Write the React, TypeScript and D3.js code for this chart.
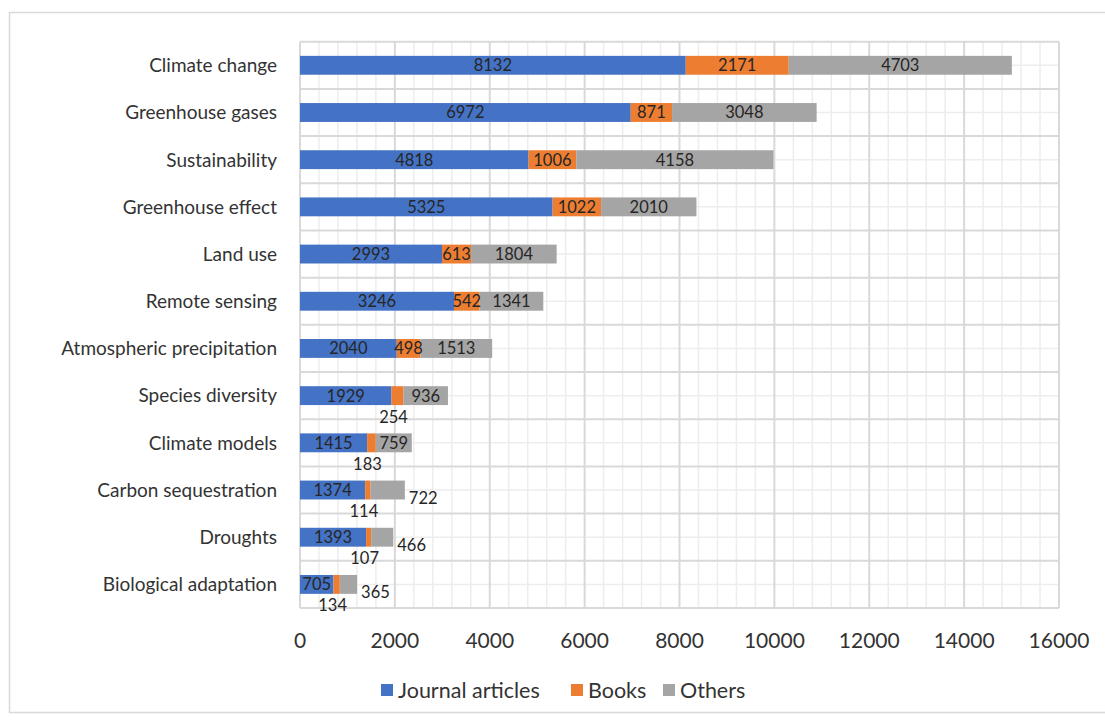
import React, { useEffect, useRef } from 'react';
import * as d3 from 'd3';

const categories = [
  'Climate change',
  'Greenhouse gases',
  'Sustainability',
  'Greenhouse effect',
  'Land use',
  'Remote sensing',
  'Atmospheric precipitation',
  'Species diversity',
  'Climate models',
  'Carbon sequestration',
  'Droughts',
  'Biological adaptation',
];
const journalArticles = [8132, 6972, 4818, 5325, 2993, 3246, 2040, 1929, 1415, 1374, 1393, 705];
const books = [2171, 871, 1006, 1022, 613, 542, 498, 254, 183, 114, 107, 134];
const others = [4703, 3048, 4158, 2010, 1804, 1341, 1513, 936, 759, 722, 466, 365];
const seriesNames = ['Journal articles', 'Books', 'Others'];
const xTicks = [0, 2000, 4000, 6000, 8000, 10000, 12000, 14000, 16000];

// labels Excel pushed outside the grey segment
const othersOutside = new Set(['Carbon sequestration', 'Droughts', 'Biological adaptation']);

const colors = ['#4472C4', '#ED7D31', '#A5A5A5'];
const FONT = "Lato, 'Open Sans', sans-serif";
const W = 1105;
const H = 722;

const App = () => {
  const ref = useRef<SVGSVGElement>(null);

  useEffect(() => {
    const svg = d3.select(ref.current);
    svg.selectAll('*').remove();

    const left = 300, right = 1059, top = 41.7, bottom = 608;

    const x = d3.scaleLinear().domain([0, 16000]).range([left, right]);
    const y = d3.scaleBand().domain(categories).range([top, bottom]).paddingInner(0.6).paddingOuter(0.3);
    const step = y.step();

    // outer frame
    svg.append('rect')
      .attr('x', 9.5).attr('y', 12.5).attr('width', 1100).attr('height', 700)
      .attr('fill', 'white').attr('stroke', '#d9d9d9').attr('stroke-width', 1.5);

    const grid = svg.append('g');
    // minor vertical lines every 400
    grid.selectAll('.vminor')
      .data(d3.range(0, 16001, 400).filter(v => v % 2000 !== 0))
      .enter().append('line')
      .attr('x1', d => x(d)).attr('x2', d => x(d))
      .attr('y1', top).attr('y2', bottom)
      .attr('stroke', '#ededed').attr('stroke-width', 1.5);
    // minor horizontal lines through category centres
    grid.selectAll('.hminor')
      .data(categories)
      .enter().append('line')
      .attr('x1', left).attr('x2', right)
      .attr('y1', d => y(d)! + y.bandwidth() / 2).attr('y2', d => y(d)! + y.bandwidth() / 2)
      .attr('stroke', '#ededed').attr('stroke-width', 1.5);
    // major vertical
    grid.selectAll('.vmajor')
      .data(xTicks)
      .enter().append('line')
      .attr('x1', d => x(d)).attr('x2', d => x(d))
      .attr('y1', top).attr('y2', bottom)
      .attr('stroke', '#d9d9d9').attr('stroke-width', 2);
    // major horizontal at band edges
    grid.selectAll('.hmajor')
      .data(d3.range(categories.length + 1))
      .enter().append('line')
      .attr('x1', left).attr('x2', right)
      .attr('y1', i => top + i * step).attr('y2', i => top + i * step)
      .attr('stroke', '#d9d9d9').attr('stroke-width', 2);

    const rows = categories.map((c, i) => ({ cat: c, s0: journalArticles[i], s1: books[i], s2: others[i] }));
    const stack = d3.stack<any>().keys(['s0', 's1', 's2']);
    const layers = stack(rows);

    layers.forEach((layer, k) => {
      svg.append('g').selectAll('rect')
        .data(layer)
        .enter().append('rect')
        .attr('x', d => x(d[0]))
        .attr('y', d => y(d.data.cat)!)
        .attr('width', d => x(d[1]) - x(d[0]))
        .attr('height', y.bandwidth())
        .attr('fill', colors[k]);
    });

    // data labels
    layers.forEach((layer, k) => {
      svg.append('g').selectAll('text')
        .data(layer)
        .enter().append('text')
        .each(function (d) {
          const t = d3.select(this);
          const cy = y(d.data.cat)! + y.bandwidth() / 2;
          const w = x(d[1]) - x(d[0]);
          const cx = (x(d[0]) + x(d[1])) / 2;
          const v = d[1] - d[0];
          if (k === 1 && w < 20) {
            t.attr('x', cx - 4).attr('y', cy + 21).attr('text-anchor', 'middle');
          } else if (k === 2 && othersOutside.has(d.data.cat)) {
            t.attr('x', x(d[1]) + 4).attr('y', cy + 8).attr('text-anchor', 'start');
          } else {
            t.attr('x', cx).attr('y', cy).attr('text-anchor', 'middle');
          }
          t.attr('dy', '0.36em').text(v);
        })
        .attr('font-family', FONT)
        .attr('font-size', 16.5)
        .attr('fill', '#262626');
    });

    // category labels
    svg.append('g').selectAll('text')
      .data(categories)
      .enter().append('text')
      .attr('x', 277)
      .attr('y', d => y(d)! + y.bandwidth() / 2)
      .attr('dy', '0.36em')
      .attr('text-anchor', 'end')
      .attr('font-family', FONT)
      .attr('font-size', 19)
      .attr('fill', '#333')
      .text(d => d);

    // x tick labels
    svg.append('g').selectAll('text')
      .data(xTicks)
      .enter().append('text')
      .attr('x', d => x(d))
      .attr('y', 648)
      .attr('text-anchor', 'middle')
      .attr('font-family', FONT)
      .attr('font-size', 21)
      .attr('fill', '#333')
      .text(d => d);

    // legend
    const legendX = [381, 571, 663];
    const lg = svg.append('g');
    seriesNames.forEach((name, i) => {
      lg.append('rect')
        .attr('x', legendX[i]).attr('y', 684).attr('width', 12).attr('height', 12)
        .attr('fill', colors[i]);
      lg.append('text')
        .attr('x', legendX[i] + 17).attr('y', 698)
        .attr('font-family', FONT).attr('font-size', 21.5)
        .attr('fill', '#333')
        .text(name);
    });
  }, []);

  return (
    <div style={{ position: 'fixed', left: 0, top: 0 }}>
      <svg ref={ref} width={W} height={H} style={{ display: 'block', background: 'white' }}></svg>
    </div>
  );
};

export default App;
